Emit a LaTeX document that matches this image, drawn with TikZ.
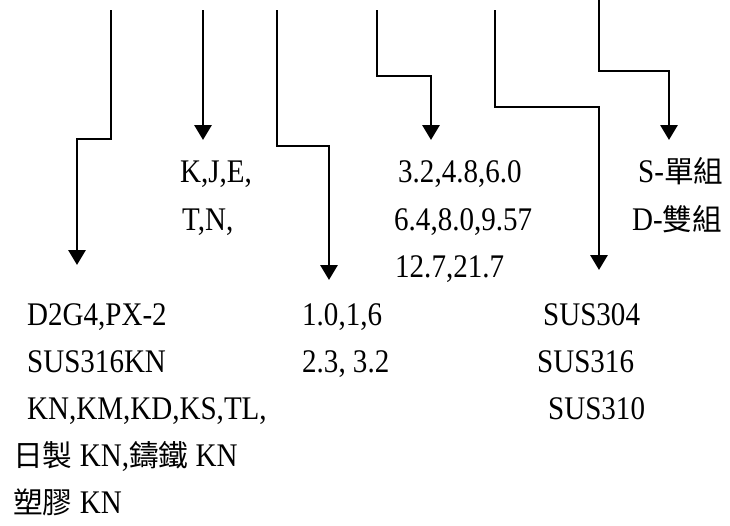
\documentclass[tikz,border=0pt]{standalone}
\usepackage{fontspec}
\setmainfont{Liberation Serif}[FakeStretch=0.88]
\newfontfamily\cjk{Noto Sans CJK TC}[Scale=0.9]
\usepackage{tikz}
\usetikzlibrary{arrows.meta, positioning}

\tikzset{
	lbl/.style={font=\fontsize{33}{47}\selectfont, inner sep=0pt, anchor=base west},
	link/.style={line width=2.9pt, ->}
}

\begin{document}
\begin{tikzpicture}[x=1pt, y=-1pt, >={Triangle[width=17pt,length=15pt]}]
		\useasboundingbox (0,0) rectangle (730,525);
		% free ends of the six leaders
		\coordinate (top1) at (111,10); \coordinate (tip1) at (77,265);
		\coordinate (top2) at (203,10); \coordinate (tip2) at (203,140);
		\coordinate (top3) at (277,10); \coordinate (tip3) at (329,280);
		\coordinate (top4) at (377,10); \coordinate (tip4) at (431,140);
		\coordinate (top5) at (495,10); \coordinate (tip5) at (599,270);
		\coordinate (top6) at (599,0);  \coordinate (tip6) at (669,140);

		\draw[link] (top1) -- ++(0,129) -| (tip1);
		\draw[link] (top2) -- (tip2);
		\draw[link] (top3) -- ++(0,136) -| (tip3);
		\draw[link] (top4) -- ++(0,66) -| (tip4);
		\draw[link] (top5) -- ++(0,97) -| (tip5);
		\draw[link] (top6) -- ++(0,71) -| (tip6);

		% upper labels
		\node[lbl] (type1) at (180,182) {K,J,E,}; \node[lbl] (type2) at (182,230) {T,N,};
		\node[lbl] (size1) at (398,182) {3.2,4.8,6.0}; \node[lbl] (size2) at (394,230) {6.4,8.0,9.57}; \node[lbl] (size3) at (395,277) {12.7,21.7};
		\node[lbl] (set1) at (638,182) {S-{\cjk 單組}}; \node[lbl] (set2) at (632,230) {D-{\cjk 雙組}};

		% lower labels
		\node[lbl] (mat1) at (27,325) {D2G4,PX-2}; \node[lbl] (mat2) at (27,372) {SUS316KN}; \node[lbl] (mat3) at (27,419) {KN,KM,KD,KS,TL,};
		\node[lbl] (mat4) at (13,466) {{\cjk 日製} KN,{\cjk 鑄鐵} KN}; \node[lbl] (mat5) at (13,513) {{\cjk 塑膠} KN};
		\node[lbl] (thk1) at (302,325) {1.0,1,6}; \node[lbl] (thk2) at (302,372) {2.3, 3.2};
		\node[lbl] (sus1) at (543,325) {SUS304}; \node[lbl] (sus2) at (537,372) {SUS316}; \node[lbl] (sus3) at (548,419) {SUS310};
\end{tikzpicture}
\end{document}
